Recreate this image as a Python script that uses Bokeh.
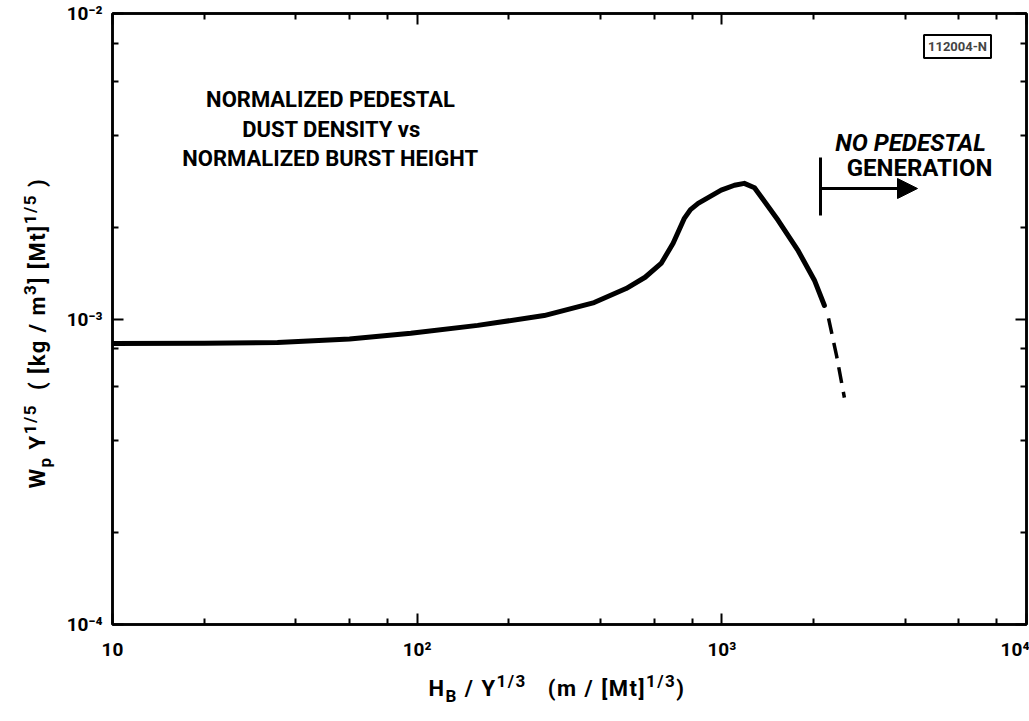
from bokeh.plotting import figure
from bokeh.layouts import column, row
from bokeh.models import (Range1d, FixedTicker, LogAxis, Label, Arrow, NormalHead, Div)
from bokeh.embed import file_html
from bokeh.resources import INLINE

# ---------------- data ----------------
x_major = [10, 100, 1000, 10000]
x_minor = [20, 40, 60, 80, 200, 400, 600, 800, 2000, 4000, 6000, 8000]
x_labels = ["10", "10²", "10³", "10⁴"]
y_major = [1e-4, 1e-3, 1e-2]
y_minor = [2e-4, 4e-4, 6e-4, 8e-4, 2e-3, 4e-3, 6e-3, 8e-3]
y_labels = ["10⁻⁴", "10⁻³", "10⁻²"]

hb = [10, 20, 34.8, 60, 95.3, 158, 261, 381, 485, 560, 632, 658, 692, 752, 789,
      836, 995, 1100, 1185, 1280, 1532, 1782, 2013, 2171]
wp = [8.31e-4, 8.33e-4, 8.38e-4, 8.6e-4, 8.98e-4, 9.53e-4, 1.026e-3, 1.132e-3,
      1.258e-3, 1.37e-3, 1.52e-3, 1.625e-3, 1.77e-3, 2.13e-3, 2.28e-3, 2.39e-3,
      2.64e-3, 2.74e-3, 2.78e-3, 2.69e-3, 2.10e-3, 1.67e-3, 1.34e-3, 1.107e-3]
hb_ext = [2240, 2379, 2525]
wp_ext = [1.005e-3, 7.6e-4, 5.53e-4]

x_title = "H<sub>B</sub> / Y<sup>1/3</sup>"
x_units = "(m / [Mt]<sup>1/3</sup>)"
y_title = "W<sub>p</sub> Y<sup>1/5</sup>"
y_units = "( [kg / m<sup>3</sup>] [Mt]<sup>1/5</sup> )"

# ---------------- layout ----------------
W, H = 1029, 721
YLAB_W = 60          # width of the rotated y-label column
PLOT_H = 665         # height of the figure (x label strip below)
FL, FR, FT, FB = 112, 1026, 13, 624   # frame edges in page pixels


def X(px):
    return 10 ** (1 + 3 * (px - FL) / (FR - FL))


def Y(py):
    return 10 ** (-2 - 2 * (py - FT) / (FB - FT))


FONT = "Roboto"

p = figure(width=W - YLAB_W, height=PLOT_H, x_axis_type="log", y_axis_type="log",
           x_range=Range1d(10, 1e4), y_range=Range1d(1e-4, 1e-2),
           output_backend="svg", toolbar_location=None,
           min_border_left=FL - YLAB_W, min_border_right=W - FR,
           min_border_top=FT, min_border_bottom=PLOT_H - FB, margin=0)
p.background_fill_color = "white"
p.border_fill_color = "white"
p.grid.visible = False
p.outline_line_color = "black"
p.outline_line_width = 2.5

xt = FixedTicker(ticks=x_major, minor_ticks=x_minor)
yt = FixedTicker(ticks=y_major, minor_ticks=y_minor)


def style_axis(ax, ticker, labels, ticks, show_labels=True):
    ax.ticker = ticker
    ax.axis_line_color = "black"
    ax.axis_line_width = 2.5
    ax.major_tick_in = 11
    ax.major_tick_out = 0
    ax.minor_tick_in = 6
    ax.minor_tick_out = 0
    ax.major_tick_line_width = 2
    ax.minor_tick_line_width = 2
    ax.major_tick_line_color = "black"
    ax.minor_tick_line_color = "black"
    if show_labels:
        ax.major_label_overrides = {t: l for t, l in zip(ticks, labels)}
        ax.major_label_text_font = FONT
        ax.major_label_text_font_size = "19px"
        ax.major_label_text_font_style = "bold"
        ax.major_label_text_color = "black"
    else:
        ax.major_label_overrides = {t: "" for t in ticks}
        ax.major_label_text_font_size = "0px"
        ax.major_label_standoff = 0


style_axis(p.xaxis[0], xt, x_labels, x_major)
p.xaxis[0].major_label_standoff = 13
style_axis(p.yaxis[0], yt, y_labels, y_major)
p.yaxis[0].major_label_standoff = 10

top = LogAxis()
style_axis(top, xt, x_labels, x_major, show_labels=False)
p.add_layout(top, "above")
right = LogAxis()
style_axis(right, yt, y_labels, y_major, show_labels=False)
p.add_layout(right, "right")

# ---------------- curve ----------------
p.line(hb, wp, line_color="black", line_width=5, line_cap="round", line_join="round")
p.line(hb_ext, wp_ext, line_color="black", line_width=3.5, line_dash="16 9")

# ---------------- annotations ----------------


def txt(s, px, py, size=22, align="center", style="bold"):
    p.add_layout(Label(x=X(px), y=Y(py), text=s, text_font=FONT,
                       text_font_size=f"{size}px", text_font_style=style,
                       text_align=align, text_baseline="middle",
                       text_color="black"))


txt("NORMALIZED PEDESTAL", 330, 99)
txt("DUST DENSITY vs", 331, 129)
txt("NORMALIZED BURST HEIGHT", 330, 158)
txt("NO PEDESTAL", 910, 142, size=24, style="bold italic")
txt("GENERATION", 919, 167, size=24)

p.add_layout(Label(x=X(957), y=Y(46), text="112004-N", text_font=FONT,
                   text_font_size="13px", text_font_style="bold",
                   text_align="center", text_baseline="middle",
                   border_line_color="black", border_line_width=2,
                   background_fill_color="white", padding=4))

p.add_layout(Arrow(end=None, start=None, x_start=X(820), y_start=Y(157),
                   x_end=X(820), y_end=Y(215), line_width=3, line_color="black"))
p.add_layout(Arrow(end=NormalHead(size=20, fill_color="black", line_color="black"),
                   x_start=X(820), y_start=Y(188), x_end=X(917), y_end=Y(188),
                   line_width=3, line_color="black"))

# ---------------- axis titles (HTML, with real sub/superscripts) ----------------
BASE = ("white-space:nowrap;font-family:Roboto;font-weight:bold;font-size:22px;"
        "color:black;line-height:1;letter-spacing:1.5px;")
SUBSUP = ("<style>sup{font-size:17px;vertical-align:baseline;position:relative;top:-0.55em;}"
          "sub{font-size:17px;vertical-align:baseline;position:relative;top:0.35em;}</style>")

ydiv = Div(width=YLAB_W, height=PLOT_H, margin=0, text=(
    SUBSUP +
    f'<div style="position:relative;width:{YLAB_W}px;height:{PLOT_H}px;">'
    f'<div style="position:absolute;left:38px;top:333px;'
    f'transform:translate(-50%,-50%) rotate(-90deg);{BASE}">'
    f'{y_title}&nbsp;&nbsp;{y_units}</div></div>'))

xdiv = Div(width=W, height=H - PLOT_H, margin=0, text=(
    SUBSUP +
    f'<div style="position:relative;width:{W}px;height:{H - PLOT_H}px;">'
    f'<div style="position:absolute;left:557px;top:24px;'
    f'transform:translate(-50%,-50%);{BASE}">'
    f'{x_title}&nbsp;&nbsp;&nbsp;{x_units}</div></div>'))

layout = column(row(ydiv, p, spacing=0, margin=0), xdiv, spacing=0, margin=0)

open("out.html", "w").write(file_html(layout, INLINE))
